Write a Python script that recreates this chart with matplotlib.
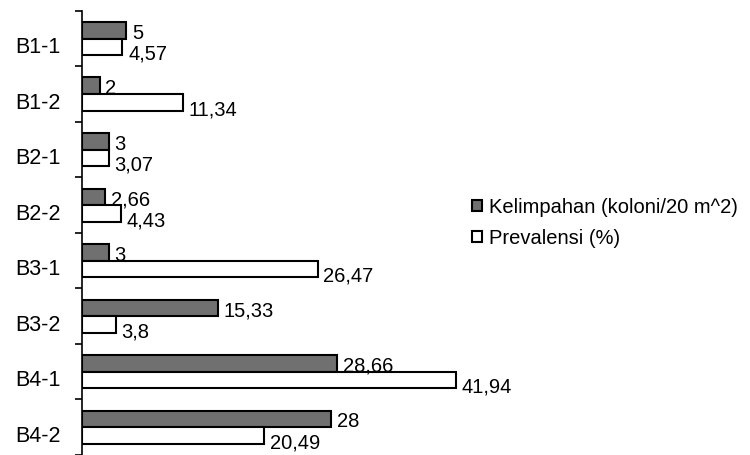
import numpy as np
import matplotlib.pyplot as plt
import matplotlib.transforms as mtransforms

plt.rcParams['font.family'] = ['Liberation Sans', 'DejaVu Sans']

stations = ['B1-1', 'B1-2', 'B2-1', 'B2-2', 'B3-1', 'B3-2', 'B4-1', 'B4-2']
kelimpahan = [5, 2, 3, 2.66, 3, 15.33, 28.66, 28]
prevalensi = [4.57, 11.34, 3.07, 4.43, 26.47, 3.8, 41.94, 20.49]


def fmt(v):
    # decimal comma, drop trailing zeros
    s = f"{v:.2f}".rstrip('0').rstrip('.')
    return s.replace('.', ',')


fig = plt.figure(figsize=(7.5, 4.56), dpi=100)
ax = fig.add_axes([0.109, 0.0, 0.535, 0.974])

y = np.arange(len(stations))
h = 0.3

ax.barh(y - h / 2, kelimpahan, height=h, color='#707070', edgecolor='black',
        linewidth=1.5, label='Kelimpahan (koloni/20 m^2)')
ax.barh(y + h / 2, prevalensi, height=h, color='white', edgecolor='black',
        linewidth=1.5, label='Prevalensi (%)')

for yi, v in zip(y, kelimpahan):
    ax.annotate(fmt(v), (v, yi - h / 2), xytext=(4, -1.5), textcoords='offset points',
                va='center', ha='left', fontsize=14.5)
for yi, v in zip(y, prevalensi):
    ax.annotate(fmt(v), (v, yi + h / 2), xytext=(4, -4.5), textcoords='offset points',
                va='center', ha='left', fontsize=14.5)

ax.set_xlim(0, 45)
ax.set_ylim(len(stations) - 0.5, -0.5)

# category labels sit a little below the bar pair, tick marks on the boundaries
ax.set_yticks(y, stations, fontsize=15.5)
ax.tick_params(axis='y', which='major', length=0, pad=15)
shift = mtransforms.ScaledTranslation(0, -4 / 72, fig.dpi_scale_trans)
for lbl in ax.get_yticklabels():
    lbl.set_transform(lbl.get_transform() + shift)
ax.set_yticks(np.arange(-0.5, len(stations)), minor=True)
ax.tick_params(axis='y', which='minor', length=5, width=1.2, direction='out')
ax.set_xticks([])

for side in ['top', 'right', 'bottom']:
    ax.spines[side].set_visible(False)
ax.spines['left'].set_linewidth(1.2)

fig.legend(loc='center left', bbox_to_anchor=(0.605, 0.51), frameon=False,
           fontsize=14.5, handlelength=0.5, handleheight=0.5, handletextpad=0.35,
           labelspacing=0.6)

fig.savefig('out.png', dpi=100)
